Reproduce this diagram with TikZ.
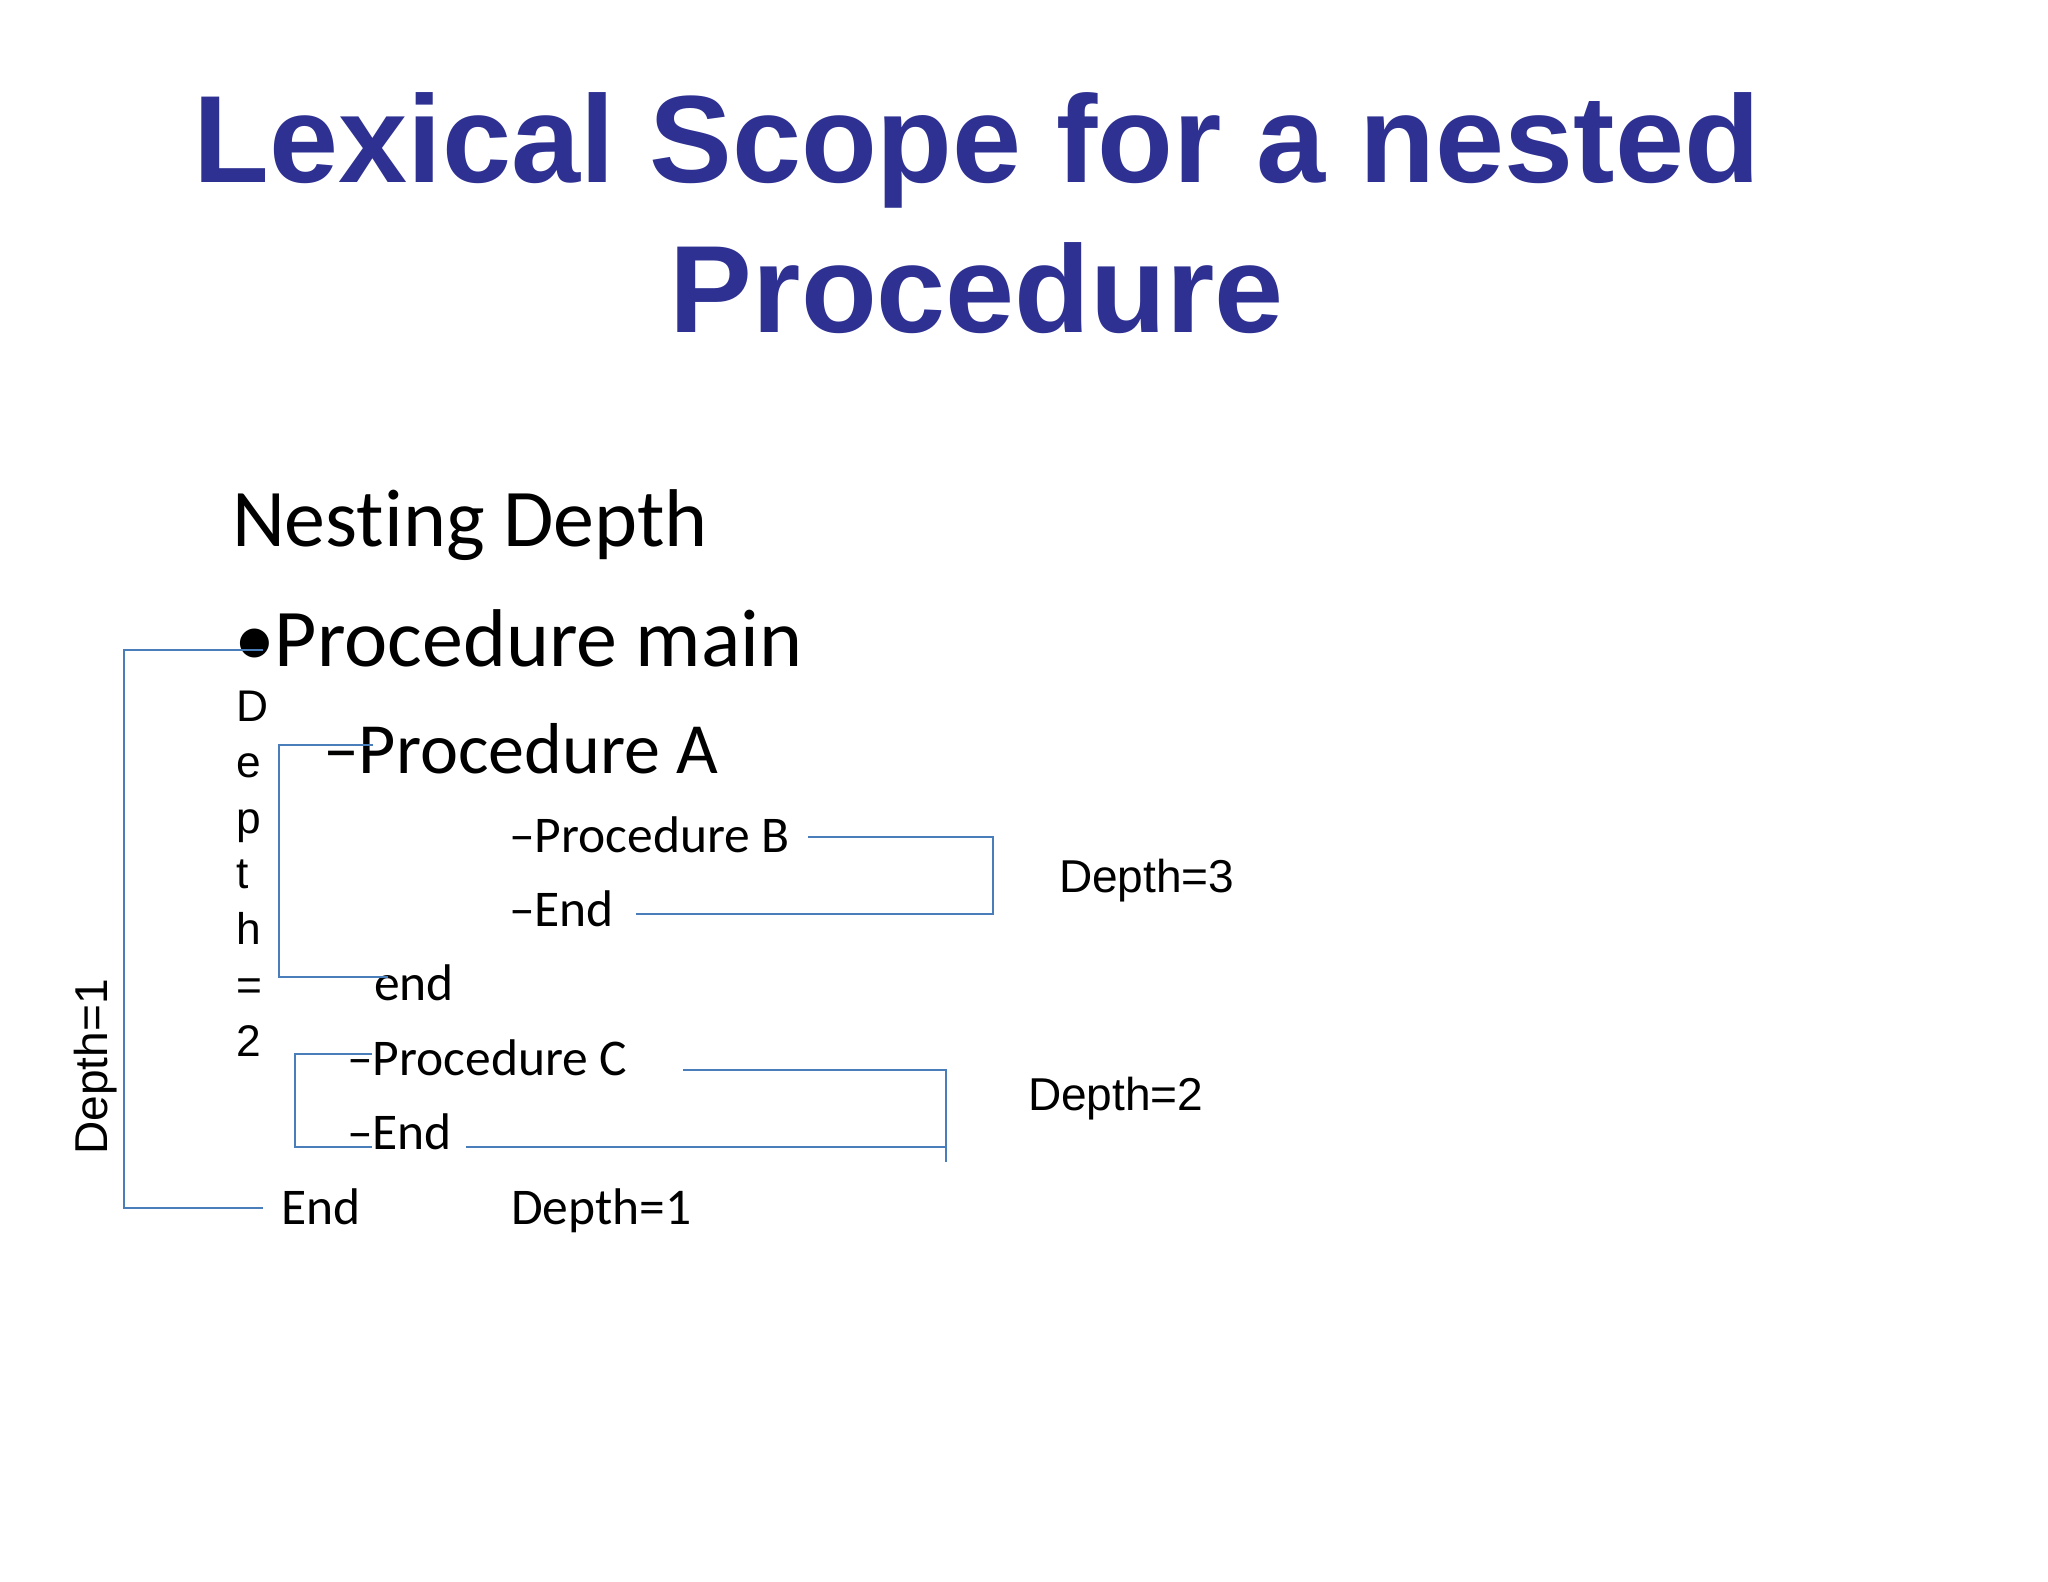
\documentclass[tikz,border=0pt]{standalone}
\usepackage{fontspec}
\setmainfont{Carlito}[Ligatures={NoCommon}]
\newfontfamily\arialfont{Liberation Sans}
\definecolor{titleblue}{RGB}{46,49,146}
\definecolor{linkblue}{RGB}{74,126,187}
\begin{document}
\begin{tikzpicture}[x=0.01cm,y=-0.01cm,
  txt/.style={anchor=base west,inner sep=0pt,outer sep=0pt},
  titlestyle/.style={anchor=base,inner sep=0pt,text=titleblue,font=\arialfont\bfseries\fontsize{35.3}{42}\selectfont},
  bigtxt/.style={txt,font=\fontsize{23.3}{28}\selectfont},
  midtxt/.style={txt,font=\fontsize{20.5}{25}\selectfont},
  smtxt/.style={txt,font=\fontsize{14.65}{18}\selectfont},
  lbl/.style={txt,font=\arialfont\fontsize{13.1}{16}\selectfont},
  bracket/.style={draw=linkblue,line width=0.6pt}]
\useasboundingbox (0,0) rectangle (2048,1582);
% title
\node[titlestyle] (t1) at (977,183) {Lexical Scope for a nested};
\node[titlestyle] (t2) at (977,333) {Procedure};
% texts
\node[bigtxt] (nd) at (232,546) {Nesting Depth};
\node[bigtxt] (pm) at (234,666) {•Procedure main};
\node[midtxt] (pa) at (323,773) {–Procedure A};
\node[smtxt] (pb) at (509,852) {–Procedure B};
\node[smtxt] (eb) at (509,926) {–End};
\node[smtxt] (ea) at (374,1000) {end};
\node[smtxt] (pc) at (347,1075) {–Procedure C};
\node[smtxt] (ec) at (347,1149) {–End};
\node[smtxt] (em) at (281,1224) {End};
\node[smtxt] (d1b) at (511,1224) {Depth=1};
\node[lbl] (d3) at (1059,892) {Depth=3};
\node[lbl] (d2) at (1028,1110) {Depth=2};
\node[lbl,anchor=base,rotate=90] (d1) at (107,1067) {Depth=1};
\node[inner sep=0pt,anchor=north west,align=left,font=\arialfont\fontsize{12.6}{15.9}\selectfont] (d2v) at (236,690) {D\\e\\p\\t\\h\\=\\2};
% brackets
\coordinate (b1a) at (263,650);
\coordinate (b1b) at (124,650);
\coordinate (b1c) at (124,1208);
\coordinate (b1d) at (263,1208);
\draw[bracket] (b1a) -- (b1b) -- (b1c) -- (b1d);
\coordinate (baa) at (373,745);
\coordinate (bab) at (279,745);
\coordinate (bac) at (279,977);
\coordinate (bad) at (388,977);
\draw[bracket] (baa) -- (bab) -- (bac) -- (bad);
\coordinate (bba) at (808,837);
\coordinate (bbb) at (993,837);
\coordinate (bbc) at (993,914);
\coordinate (bbd) at (636,914);
\draw[bracket] (bba) -- (bbb) -- (bbc) -- (bbd);
\coordinate (bca) at (372,1054);
\coordinate (bcb) at (295,1054);
\coordinate (bcc) at (295,1147);
\coordinate (bcd) at (372,1147);
\draw[bracket] (bca) -- (bcb) -- (bcc) -- (bcd);
\coordinate (bra) at (683,1070);
\coordinate (brb) at (946,1070);
\coordinate (brc) at (946,1162);
\coordinate (brd) at (466,1147);
\coordinate (bre) at (946,1147);
\draw[bracket] (bra) -- (brb) -- (brc);
\draw[bracket] (brd) -- (bre);
\end{tikzpicture}
\end{document}
